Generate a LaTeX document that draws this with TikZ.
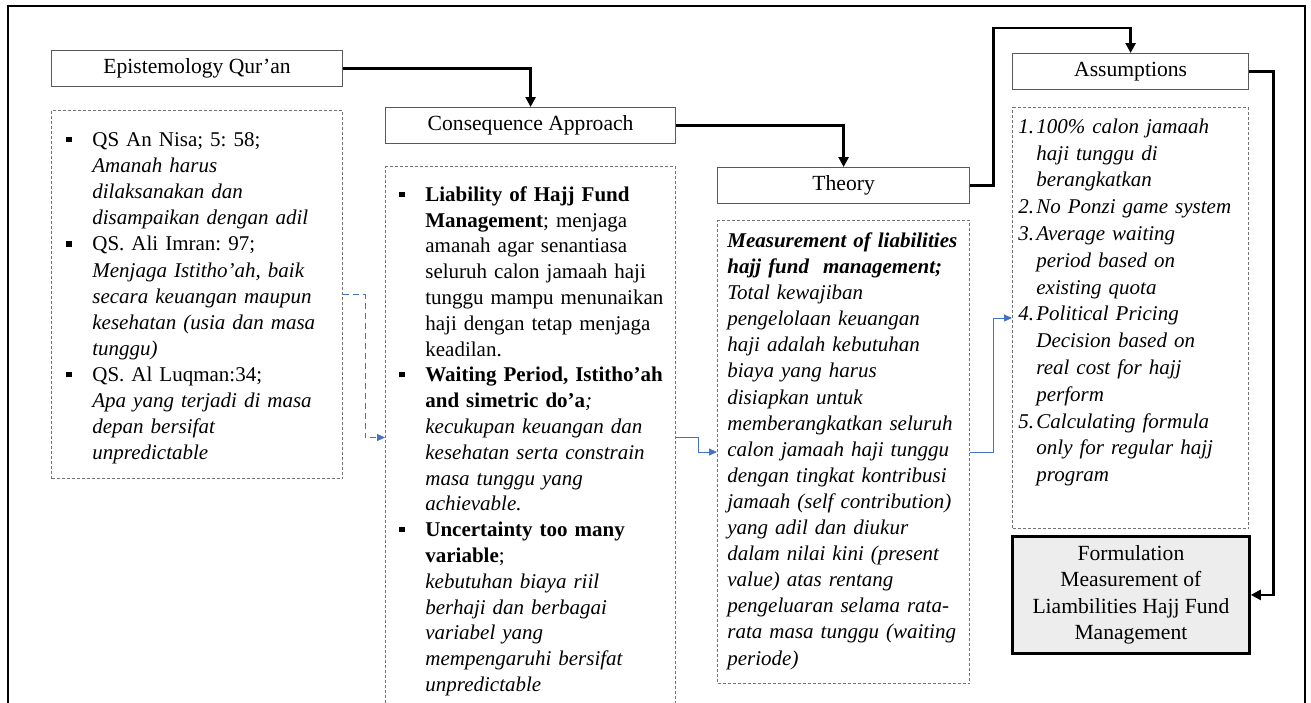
\documentclass[tikz,border=0pt]{standalone}
\usepackage{fontspec}
\setmainfont{Liberation Serif}
\usetikzlibrary{arrows.meta,positioning,calc}
\definecolor{linkblue}{HTML}{4472C4}
\newcommand{\bulletpar}[1]{\par\noindent\hangindent=13pt\hangafter=1\makebox[13pt][l]{\rule[2.2pt]{2.6pt}{2.6pt}}#1\par}
\newcommand{\numpar}[2]{\par\noindent\hangindent=9pt\hangafter=1\makebox[9pt][l]{#1}#2\par}
\newcommand{\firststrut}{\rule{0pt}{8.5pt}}

\begin{document}
\begin{tikzpicture}[x=0.5pt,y=-0.5pt,
  titlebox/.style={draw=black!65,line width=0.6pt,minimum height=18pt,inner sep=0pt,anchor=north west},
  dotbox/.style={draw=black!55,line width=0.5pt,dash pattern=on 1.5pt off 1pt,inner sep=0pt,anchor=north west},
  listtext/.style={inner sep=0pt,anchor=north west,text width=170pt,
    execute at begin node={\frenchspacing\hyphenpenalty=10000}},
  flow/.style={-{Triangle[length=5pt,width=5pt]},line width=1.4pt},
  link/.style={-{Triangle[length=4pt,width=3.5pt]},draw=linkblue,line width=0.5pt},
  every node/.style={font=\fontsize{10.8}{13.2}\selectfont}]

\useasboundingbox (0,0) rectangle (1311,702);
\clip (0,0) rectangle (1311,702);

% outer frame
\draw[line width=1pt] (8,720) -- (8,6) -- (1305,6) -- (1305,720);

% titles
\node[titlebox,minimum width=145.5pt] (epist) at (51,50) {Epistemology Qur'an};
\node[titlebox,minimum width=145pt] (cons) at (385,107) {Consequence Approach};
\node[titlebox,minimum width=126pt] (theory) at (717,167) {Theory};
\node[titlebox,minimum width=118pt] (assum) at (1012,53) {Assumptions};
\node[draw,line width=1.4pt,fill=black!7,minimum width=118.5pt,minimum height=58.5pt,
  inner sep=0pt,anchor=north west,align=center] (form) at (1011,535)
  {Formulation\\Measurement of\\Liambilities Hajj Fund\\Management};

% dotted boxes
\node[dotbox,minimum width=145.5pt,minimum height=184pt] (quranBox) at (51,110) {};
\node[dotbox,minimum width=145pt,minimum height=271pt] (consBox) at (385,166) {};
\node[dotbox,minimum width=126pt,minimum height=231.5pt] (theoryBox) at (717,220) {};
\node[dotbox,minimum width=118pt,minimum height=210.5pt] (assumBox) at (1012,107) {};

% box texts
\node[listtext,font=\fontsize{10.5}{13.05}\selectfont] (quranText) at (66,120) {%
  \bulletpar{\firststrut QS An Nisa; 5: 58;\newline
    \textit{Amanah harus\newline dilaksanakan dan\newline disampaikan dengan adil}}
  \bulletpar{QS. Ali Imran: 97;\newline
    \textit{Menjaga Istitho'ah, baik\newline secara keuangan maupun\newline kesehatan (usia dan masa\newline tunggu)}}
  \bulletpar{QS. Al Luqman:34;\newline
    \textit{Apa yang terjadi di masa\newline depan bersifat\newline unpredictable}}};

\node[listtext,font=\fontsize{10.5}{12.9}\selectfont] (consText) at (399,175) {%
  \bulletpar{\firststrut\textbf{Liability of Hajj Fund\newline Management}; menjaga\newline
    amanah agar senantiasa\newline seluruh calon jamaah haji\newline
    tunggu mampu menunaikan\newline haji dengan tetap menjaga\newline keadilan.}
  \bulletpar{\textbf{Waiting Period, Istitho'ah\newline and simetric do'a}\textit{;}\newline
    \textit{kecukupan keuangan dan\newline kesehatan serta constrain\newline
    masa tunggu yang\newline achievable.}}
  \bulletpar{\textbf{Uncertainty too many\newline variable};\newline
    \textit{kebutuhan biaya riil\newline berhaji dan berbagai\newline
    variabel yang\newline mempengaruhi bersifat\newline unpredictable}}};

\node[listtext,align=left,font=\fontsize{10.5}{13.05}\selectfont] (theoryText) at (727,230) {%
  \firststrut\textbf{\textit{Measurement of liabilities\\ hajj fund\ \ management;}}\\
  \textit{Total kewajiban\\ pengelolaan keuangan\\ haji adalah kebutuhan\\
  biaya yang harus\\ disiapkan untuk\\ memberangkatkan seluruh\\
  calon jamaah haji tunggu\\ dengan tingkat kontribusi\\
  jamaah (self contribution)\\ yang adil dan diukur\\
  dalam nilai kini (present\\ value) atas rentang\\
  pengeluaran selama rata-\\ rata masa tunggu (waiting\\ periode)}};

\node[listtext,font=\fontsize{10.5}{13.4}\selectfont] (assumText) at (1018,106) {\itshape
  \numpar{1.}{\firststrut 100\% calon jamaah\newline haji tunggu di\newline berangkatkan}
  \numpar{2.}{No Ponzi game system}
  \numpar{3.}{Average waiting\newline period based on\newline existing quota}
  \numpar{4.}{Political Pricing\newline Decision based on\newline real cost for hajj\newline perform}
  \numpar{5.}{Calculating formula\newline only for regular hajj\newline program}};

% main flow
\draw[flow] (epist.east) -| (cons.north);
\draw[flow] (cons.east) -| (theory.north);
\draw[flow] (theory.east) -- ++(23,0) |- ([yshift=12.5pt]assum.north) -- (assum.north);
\draw[flow] (assum.east) -- ++(24,0) |- (form.east);

% blue links between boxes
\draw[link,densely dashed] (quranBox.east) -- ++(22,0) |- (consBox.west);
\draw[link] (consBox.east) -- ++(22,0) |- (theoryBox.west);
\draw[link] (theoryBox.east) -- ++(23,0) |- (assumBox.west);

\end{tikzpicture}
\end{document}
